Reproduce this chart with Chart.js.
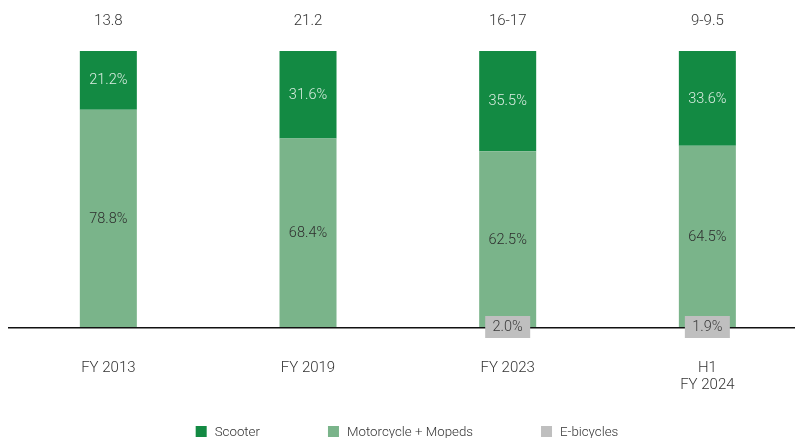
<!DOCTYPE html>
<html>
<head>
<meta charset="utf-8">
<script src="https://cdn.jsdelivr.net/npm/chart.js@4"></script>
<style>
html,body{margin:0;padding:0;background:#fff;overflow:hidden;width:795px;height:438px;}
#wrap{position:absolute;left:0;top:0;width:810px;height:438px;}
</style>
</head>
<body>
<div id="wrap"><canvas id="c" width="810" height="438"></canvas></div>
<script>
// ---- data ----
const categories = [['FY 2013'], ['FY 2019'], ['FY 2023'], ['H1', 'FY 2024']];
const totals = ['13.8', '21.2', '16-17', '9-9.5'];
const scooter = [21.2, 31.6, 35.5, 33.6];
const motorcycle = [78.8, 68.4, 62.5, 64.5];
const ebicycles = [null, null, 2.0, 1.9];
const seriesNames = ['Scooter', 'Motorcycle + Mopeds', 'E-bicycles'];

// ---- style ----
const C_SCOOTER = '#138a43';
const C_MOTO = '#7ab48a';
const C_EBIKE = '#bfbfbf';
const FONT = 'Roboto, "Noto Sans", sans-serif';

// bars show the split of scooter vs motorcycle (e-bicycles are shown as a tag at the base)
const shareOf = (a, b) => a.map((v, i) => v / (a[i] + b[i]) * 100);
const motoBar = shareOf(motorcycle, scooter);
const scooterBar = shareOf(scooter, motorcycle);

const labelPlugin = {
  id: 'labels',
  afterDraw(chart) {
    const ctx = chart.ctx;
    const area = chart.chartArea;
    ctx.save();
    ctx.textAlign = 'center';
    ctx.textBaseline = 'middle';
    // totals
    const metaS = chart.getDatasetMeta(1);
    ctx.font = '300 15px ' + FONT;
    ctx.fillStyle = '#333';
    metaS.data.forEach((el, i) => {
      ctx.fillText(totals[i], el.x, area.top - 30);
    });
    // segment labels
    const segs = [
      {idx: 0, vals: motorcycle, color: '#2e2e2e'},
      {idx: 1, vals: scooter, color: 'rgba(255,255,255,0.85)'}
    ];
    ctx.font = '300 14.5px ' + FONT;
    segs.forEach(s => {
      const meta = chart.getDatasetMeta(s.idx);
      meta.data.forEach((el, i) => {
        ctx.fillStyle = s.color;
        ctx.fillText(s.vals[i].toFixed(1) + '%', el.x, (el.y + el.base) / 2 + 0.5);
      });
    });
    // e-bicycle tags
    const metaE = chart.getDatasetMeta(2);
    metaE.data.forEach((el, i) => {
      if (ebicycles[i] == null) return;
      const w = 45, h = 22;
      ctx.fillStyle = C_EBIKE;
      ctx.fillRect(el.x - w / 2, el.base - 12, w, h);
      ctx.fillStyle = '#3a3a3a';
      ctx.fillText(ebicycles[i].toFixed(1) + '%', el.x, el.base - 1);
    });
    // legend
    const items = [
      {t: seriesNames[0], c: C_SCOOTER},
      {t: seriesNames[1], c: C_MOTO},
      {t: seriesNames[2], c: C_EBIKE}
    ];
    ctx.font = '300 13.3px ' + FONT;
    const box = 11, gapBT = 8, gapItems = 68;
    const widths = items.map(it => box + gapBT + ctx.measureText(it.t).width);
    const total = widths.reduce((a, b) => a + b, 0) + gapItems * (items.length - 1);
    let x = chart.width / 2 + 2 - total / 2;
    const yBox = 426;
    ctx.textAlign = 'left';
    items.forEach((it, i) => {
      ctx.fillStyle = it.c;
      ctx.fillRect(x, yBox, box, box);
      ctx.fillStyle = '#333';
      ctx.fillText(it.t, x + box + gapBT, yBox + 7);
      x += widths[i] + gapItems;
    });
    ctx.restore();
  }
};

new Chart(document.getElementById('c'), {
  type: 'bar',
  data: {
    labels: categories,
    datasets: [
      {label: seriesNames[1], data: motoBar, backgroundColor: C_MOTO, stack: 'main', barPercentage: 0.2855},
      {label: seriesNames[0], data: scooterBar, backgroundColor: C_SCOOTER, stack: 'main', barPercentage: 0.2855},
      {label: seriesNames[2], data: ebicycles, backgroundColor: C_EBIKE, stack: 'eb', barPercentage: 0.22}
    ]
  },
  options: {
    responsive: false,
    animation: false,
    devicePixelRatio: 1,
    datasets: {bar: {grouped: false, categoryPercentage: 1}},
    layout: {padding: {top: 51, left: 8.5, right: 2.8, bottom: 0}},
    plugins: {legend: {display: false}, tooltip: {enabled: false}},
    scales: {
      x: {
        grid: {display: false, drawTicks: false},
        border: {display: true, color: '#111', width: 1.5, z: 1},
        ticks: {color: '#333', padding: 31.5, font: {family: FONT, size: 15, weight: '300', lineHeight: 1.13}},
        afterFit(scale) { scale.height = 110; }
      },
      y: {
        display: false,
        stacked: true,
        min: 0,
        max: 100
      }
    }
  },
  plugins: [labelPlugin]
});
</script>
</body>
</html>
